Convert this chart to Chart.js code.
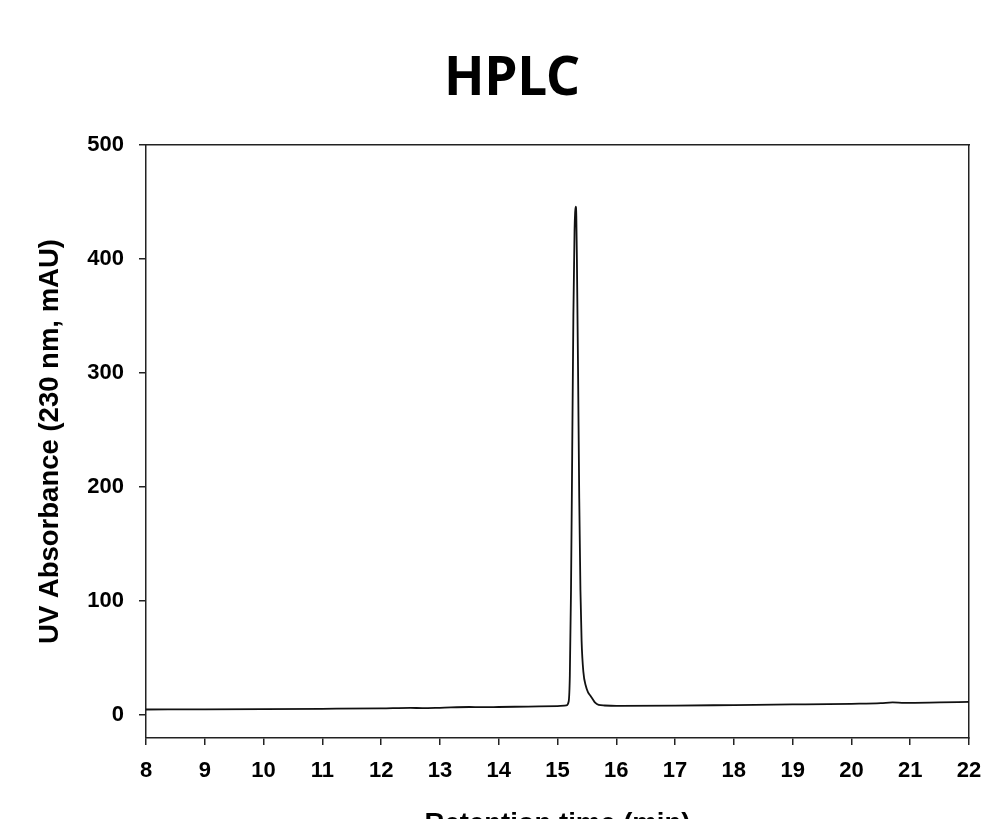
<!DOCTYPE html>
<html>
<head>
<meta charset="utf-8">
<title>HPLC</title>
<script src="https://cdn.jsdelivr.net/npm/chart.js@4/dist/chart.umd.min.js"></script>
<style>
  html, body { margin: 0; padding: 0; background: #fff; overflow: hidden; }
  #wrap { width: 986px; height: 819px; }
  canvas { display: block; }
</style>
</head>
<body>
<div id="wrap"><canvas id="hplcChart" width="986" height="819"></canvas></div>
<script>
// Retention time (min) and absorbance (mAU)
const retentionTimes = [
    8, 9, 10, 11, 12, 12.5, 12.7, 13, 13.5, 13.7, 14, 14.5, 15, 15.15,
    15.19, 15.21, 15.23, 15.25, 15.27, 15.29, 15.30, 15.31, 15.32, 15.33,
    15.35, 15.37, 15.39, 15.41, 15.44, 15.48, 15.52, 15.56, 15.60, 15.64,
    15.70, 15.80, 16, 17, 18, 19, 20, 20.5, 20.7, 20.9, 21.5, 22
];
const absorbance = [
    5.0, 5.1, 5.3, 5.6, 6.0, 6.4, 6.2, 6.5, 7.2, 7.0, 7.2, 7.6, 8.0, 8.6,
    12, 35, 110, 230, 350, 425, 441, 446, 438, 400,
    300, 190, 110, 65, 38, 26, 20, 17, 14, 11,
    9, 8.5, 8.2, 8.4, 8.9, 9.4, 10.0, 10.5, 11.2, 10.8, 11.2, 11.6
];

const xTicks = [8, 9, 10, 11, 12, 13, 14, 15, 16, 17, 18, 19, 20, 21, 22];
const yTicks = [0, 100, 200, 300, 400, 500];
const chartTitle = 'HPLC';

const axisColor = '#222';
const tickFont = { family: '"Liberation Sans", Arial, sans-serif', size: 22, weight: 'bold' };
const titleFont = { family: '"Liberation Sans", Arial, sans-serif', size: 27.5, weight: 'bold' };

// Big title drawn on its own so it can sit where the original has it
const titlePlugin = {
    id: 'bigTitle',
    afterDraw(chart) {
        const c = chart.ctx;
        c.save();
        c.font = 'bold 53px "Noto Sans", sans-serif';
        c.fillStyle = '#000';
        c.textAlign = 'center';
        c.textBaseline = 'middle';
        c.fillText(chartTitle, 512, 80);
        c.restore();
    }
};

// Keep tick-label overflow from eating into the plot box
function fixPadding(scale) {
    scale.paddingLeft = 0;
    scale.paddingRight = 0;
    scale.paddingTop = 0;
    scale.paddingBottom = 0;
}

const ctx = document.getElementById('hplcChart').getContext('2d');
const chart = new Chart(ctx, {
    type: 'scatter',
    data: {
        datasets: [{
            label: chartTitle,
            data: retentionTimes.map((t, i) => ({ x: t, y: absorbance[i] })),
            showLine: true,
            borderColor: '#111',
            borderWidth: 1.8,
            pointRadius: 0,
            tension: 0,
            cubicInterpolationMode: 'monotone'
        }]
    },
    options: {
        responsive: false,
        animation: false,
        events: [],
        layout: {
            autoPadding: false,
            padding: { left: 0, right: 17, top: 145, bottom: 0 }
        },
        plugins: {
            legend: { display: false },
            tooltip: { enabled: false },
            title: { display: false }
        },
        scales: {
            x: {
                type: 'linear',
                position: 'bottom',
                min: 8,
                max: 22,
                afterBuildTicks: scale => { scale.ticks = xTicks.map(v => ({ value: v })); },
                afterFit: scale => { scale.height = 81; fixPadding(scale); },
                ticks: { color: '#000', font: tickFont, padding: 13, maxRotation: 0, autoSkip: false },
                grid: { display: true, drawOnChartArea: false, tickLength: 7, color: axisColor, lineWidth: 1.5 },
                border: { display: true, color: axisColor, width: 1.5 },
                title: {
                    display: true,
                    text: 'Retention time (min)',
                    color: '#000',
                    font: titleFont,
                    padding: { top: 0, bottom: -22 }
                }
            },
            y: {
                type: 'linear',
                position: 'left',
                min: -20,
                max: 500,
                afterBuildTicks: scale => { scale.ticks = yTicks.map(v => ({ value: v })); },
                afterFit: scale => { scale.width = 146; fixPadding(scale); },
                ticks: { color: '#000', font: tickFont, padding: 15 },
                grid: { display: true, drawOnChartArea: false, tickLength: 7, color: axisColor, lineWidth: 1.5 },
                border: { display: true, color: axisColor, width: 1.5 },
                title: {
                    display: true,
                    text: 'UV Absorbance (230 nm, mAU)',
                    color: '#000',
                    font: titleFont,
                    padding: { top: 34, bottom: 0 }
                }
            },
            xTop: {
                type: 'linear',
                position: 'top',
                min: 8,
                max: 22,
                afterFit: scale => { scale.height = 0; fixPadding(scale); },
                ticks: { display: false },
                grid: { display: false },
                border: { display: true, color: axisColor, width: 1.5 }
            },
            yRight: {
                type: 'linear',
                position: 'right',
                min: -20,
                max: 500,
                afterFit: scale => { scale.width = 0; fixPadding(scale); },
                ticks: { display: false },
                grid: { display: false },
                border: { display: true, color: axisColor, width: 1.5 }
            }
        }
    },
    plugins: [titlePlugin]
});
</script>
</body>
</html>
